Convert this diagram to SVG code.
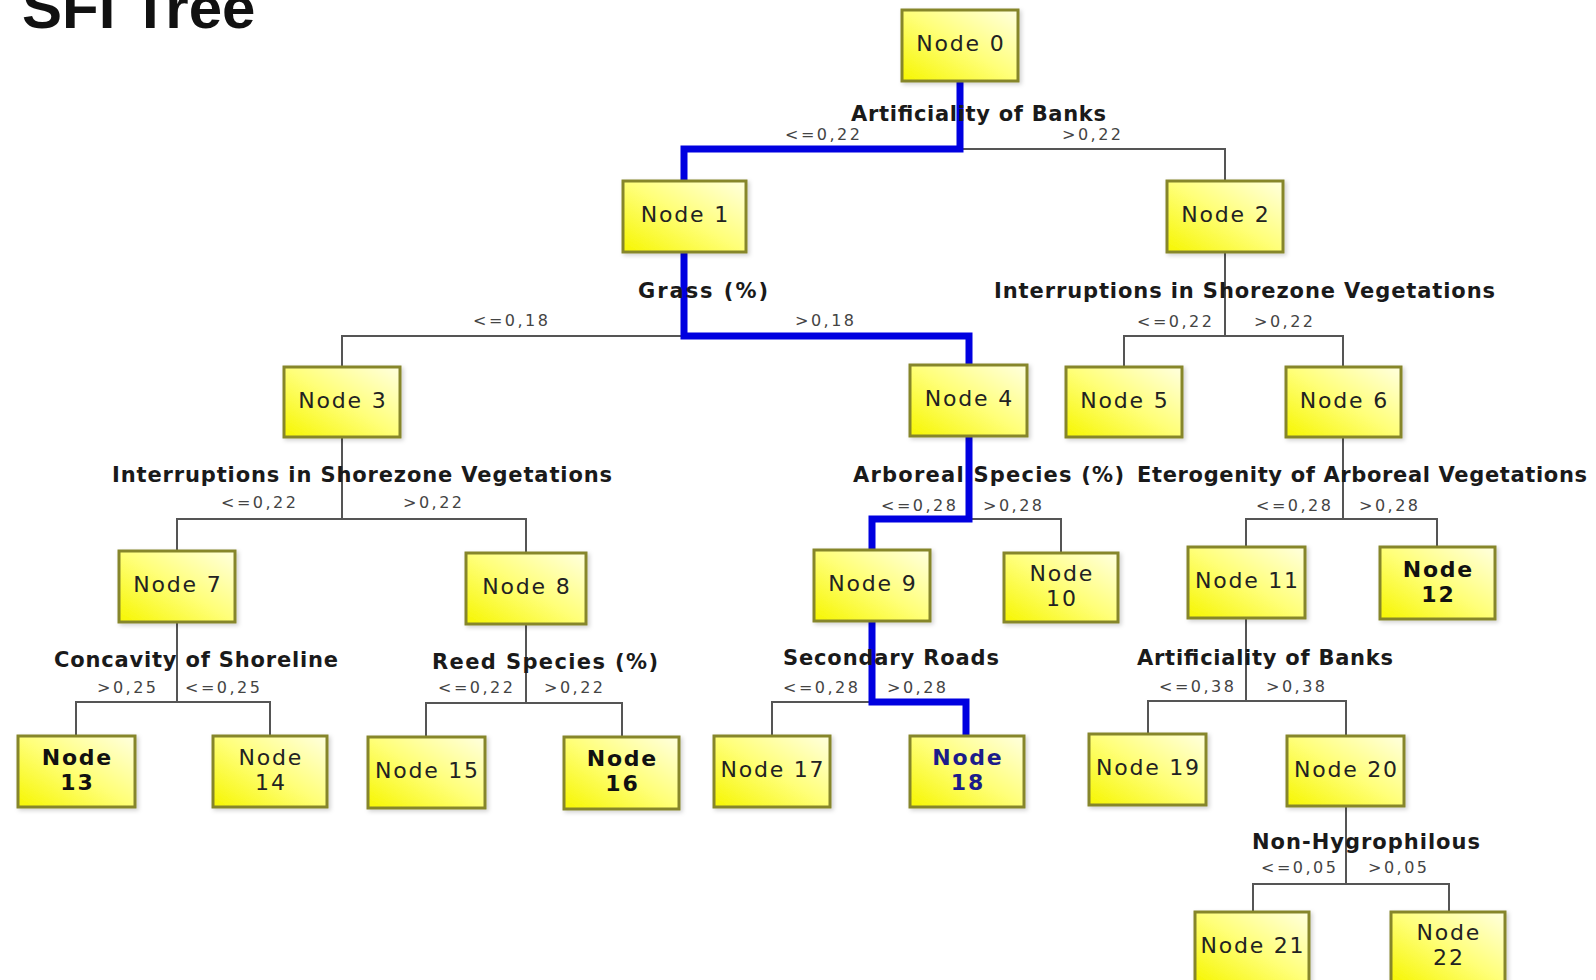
<svg xmlns="http://www.w3.org/2000/svg" width="1596" height="980" viewBox="0 0 1596 980">
<defs>
<linearGradient id="yel" x1="0" y1="1" x2="1" y2="0">
<stop offset="0" stop-color="#f6f600"/>
<stop offset="0.5" stop-color="#ffff78"/>
<stop offset="1" stop-color="#ffffe0"/>
</linearGradient>
<filter id="sh" x="-10%" y="-10%" width="125%" height="125%">
<feDropShadow dx="2" dy="2" stdDeviation="2" flood-color="#000" flood-opacity="0.18"/>
</filter>
</defs>
<style>
.box{fill:url(#yel);stroke:#86862c;stroke-width:3;filter:url(#sh)}
.nt{font-family:"DejaVu Sans",Verdana,sans-serif;font-size:22px;letter-spacing:1.8px;fill:#222;text-anchor:middle}
.nb{font-weight:bold;fill:#111}
.blue{fill:#1c1c8a}
.lab{font-family:"DejaVu Sans",Verdana,sans-serif;font-size:21px;font-weight:bold;fill:#1a1a1a}
.num{font-family:"DejaVu Sans",Verdana,sans-serif;font-size:16px;letter-spacing:2.5px;fill:#444}
.ttl{font-family:"Liberation Sans",Arial,sans-serif;font-size:60px;font-weight:bold;fill:#111}
.g{fill:none;stroke:#555;stroke-width:2}
.b{fill:none;stroke:#0000e0;stroke-width:7;stroke-linejoin:miter;stroke-linecap:square}
</style>
<rect width="1596" height="980" fill="#fff"/>
<text class="ttl" x="22" y="28">SFI Tree</text>

<g id="connectors">
<path class="g" d="M960,149 H1225 V181"/>
<path class="g" d="M684,336 H342 V367"/>
<path class="g" d="M1225,252 V336 M1124,367 V336 H1343 V367"/>
<path class="g" d="M342,437 V519 M177,551 V519 H526 V553"/>
<path class="g" d="M969,519 H1061 V553"/>
<path class="g" d="M1343,437 V519 M1246,547 V519 H1437 V547"/>
<path class="g" d="M177,622 V702 M76,736 V702 H270 V736"/>
<path class="g" d="M526,624 V703 M426,737 V703 H622 V737"/>
<path class="g" d="M872,702 H772 V736"/>
<path class="g" d="M1246,618 V701 M1148,734 V701 H1346 V736"/>
<path class="g" d="M1346,806 V884 M1253,912 V884 H1449 V912"/>
<path class="b" d="M960,84 V149 H684 V178"/>
<path class="b" d="M684,255 V336 H969 V362"/>
<path class="b" d="M969,439 V519 H872 V547"/>
<path class="b" d="M872,624 V702 H966 V733"/>
</g>

<g id="labels">
<text class="lab" x="851" y="121" textLength="255" lengthAdjust="spacing">Artificiality of Banks</text>
<text class="num" x="785" y="140">&lt;=0,22</text>
<text class="num" x="1062" y="140">&gt;0,22</text>
<text class="lab" x="638" y="298" textLength="130" lengthAdjust="spacing">Grass (%)</text>
<text class="num" x="473" y="326">&lt;=0,18</text>
<text class="num" x="795" y="326">&gt;0,18</text>
<text class="lab" x="994" y="298" textLength="501" lengthAdjust="spacing">Interruptions in Shorezone Vegetations</text>
<text class="num" x="1137" y="327">&lt;=0,22</text>
<text class="num" x="1254" y="327">&gt;0,22</text>
<text class="lab" x="112" y="482" textLength="500" lengthAdjust="spacing">Interruptions in Shorezone Vegetations</text>
<text class="num" x="221" y="508">&lt;=0,22</text>
<text class="num" x="403" y="508">&gt;0,22</text>
<text class="lab" x="853" y="482" textLength="271" lengthAdjust="spacing">Arboreal Species (%)</text>
<text class="num" x="881" y="511">&lt;=0,28</text>
<text class="num" x="983" y="511">&gt;0,28</text>
<text class="lab" x="1137" y="482" textLength="450" lengthAdjust="spacing">Eterogenity of Arboreal Vegetations</text>
<text class="num" x="1256" y="511">&lt;=0,28</text>
<text class="num" x="1359" y="511">&gt;0,28</text>
<text class="lab" x="54" y="667" textLength="284" lengthAdjust="spacing">Concavity of Shoreline</text>
<text class="num" x="97" y="693">&gt;0,25</text>
<text class="num" x="185" y="693">&lt;=0,25</text>
<text class="lab" x="432" y="669" textLength="226" lengthAdjust="spacing">Reed Species (%)</text>
<text class="num" x="438" y="693">&lt;=0,22</text>
<text class="num" x="544" y="693">&gt;0,22</text>
<text class="lab" x="783" y="665" textLength="216" lengthAdjust="spacing">Secondary Roads</text>
<text class="num" x="783" y="693">&lt;=0,28</text>
<text class="num" x="887" y="693">&gt;0,28</text>
<text class="lab" x="1137" y="665" textLength="256" lengthAdjust="spacing">Artificiality of Banks</text>
<text class="num" x="1159" y="692">&lt;=0,38</text>
<text class="num" x="1266" y="692">&gt;0,38</text>
<text class="lab" x="1252" y="849" textLength="228" lengthAdjust="spacing">Non-Hygrophilous</text>
<text class="num" x="1261" y="873">&lt;=0,05</text>
<text class="num" x="1368" y="873">&gt;0,05</text>
</g>

<g id="node-0"><rect class="box" x="902" y="10" width="116" height="71"/><text class="nt" x="960.9" y="51">Node 0</text></g>
<g id="node-1"><rect class="box" x="623" y="181" width="123" height="71"/><text class="nt" x="685.4" y="222">Node 1</text></g>
<g id="node-2"><rect class="box" x="1167" y="181" width="116" height="71"/><text class="nt" x="1225.9" y="222">Node 2</text></g>
<g id="node-3"><rect class="box" x="284" y="367" width="116" height="70"/><text class="nt" x="342.9" y="408">Node 3</text></g>
<g id="node-4"><rect class="box" x="910" y="365" width="117" height="71"/><text class="nt" x="969.4" y="406">Node 4</text></g>
<g id="node-5"><rect class="box" x="1066" y="367" width="116" height="70"/><text class="nt" x="1124.9" y="408">Node 5</text></g>
<g id="node-6"><rect class="box" x="1286" y="367" width="115" height="70"/><text class="nt" x="1344.4" y="408">Node 6</text></g>
<g id="node-7"><rect class="box" x="119" y="551" width="116" height="71"/><text class="nt" x="177.9" y="592">Node 7</text></g>
<g id="node-8"><rect class="box" x="466" y="553" width="120" height="71"/><text class="nt" x="526.9" y="594">Node 8</text></g>
<g id="node-9"><rect class="box" x="814" y="550" width="116" height="71"/><text class="nt" x="872.9" y="591">Node 9</text></g>
<g id="node-10"><rect class="box" x="1004" y="553" width="114" height="69"/><text class="nt" x="1061.9" y="581">Node</text><text class="nt" x="1061.9" y="606">10</text></g>
<g id="node-11"><rect class="box" x="1188" y="547" width="117" height="71"/><text class="nt" x="1247.4" y="588">Node 11</text></g>
<g id="node-12"><rect class="box" x="1380" y="547" width="115" height="72"/><text class="nt nb" x="1438.4" y="577">Node</text><text class="nt nb" x="1438.4" y="602">12</text></g>
<g id="node-13"><rect class="box" x="18" y="736" width="117" height="71"/><text class="nt nb" x="77.4" y="765">Node</text><text class="nt nb" x="77.4" y="790">13</text></g>
<g id="node-14"><rect class="box" x="213" y="736" width="114" height="71"/><text class="nt" x="270.9" y="765">Node</text><text class="nt" x="270.9" y="790">14</text></g>
<g id="node-15"><rect class="box" x="368" y="737" width="117" height="71"/><text class="nt" x="427.4" y="778">Node 15</text></g>
<g id="node-16"><rect class="box" x="564" y="737" width="115" height="72"/><text class="nt nb" x="622.4" y="766">Node</text><text class="nt nb" x="622.4" y="791">16</text></g>
<g id="node-17"><rect class="box" x="714" y="736" width="116" height="71"/><text class="nt" x="772.9" y="777">Node 17</text></g>
<g id="node-18"><rect class="box" x="910" y="736" width="114" height="71"/><text class="nt nb blue" x="967.9" y="765">Node</text><text class="nt nb blue" x="967.9" y="790">18</text></g>
<g id="node-19"><rect class="box" x="1089" y="734" width="117" height="71"/><text class="nt" x="1148.4" y="775">Node 19</text></g>
<g id="node-20"><rect class="box" x="1287" y="736" width="117" height="70"/><text class="nt" x="1346.4" y="777">Node 20</text></g>
<g id="node-21"><rect class="box" x="1195" y="912" width="114" height="71"/><text class="nt" x="1252.9" y="953">Node 21</text></g>
<g id="node-22"><rect class="box" x="1391" y="912" width="114" height="71"/><text class="nt" x="1448.9" y="940">Node</text><text class="nt" x="1448.9" y="965">22</text></g>
</svg>
